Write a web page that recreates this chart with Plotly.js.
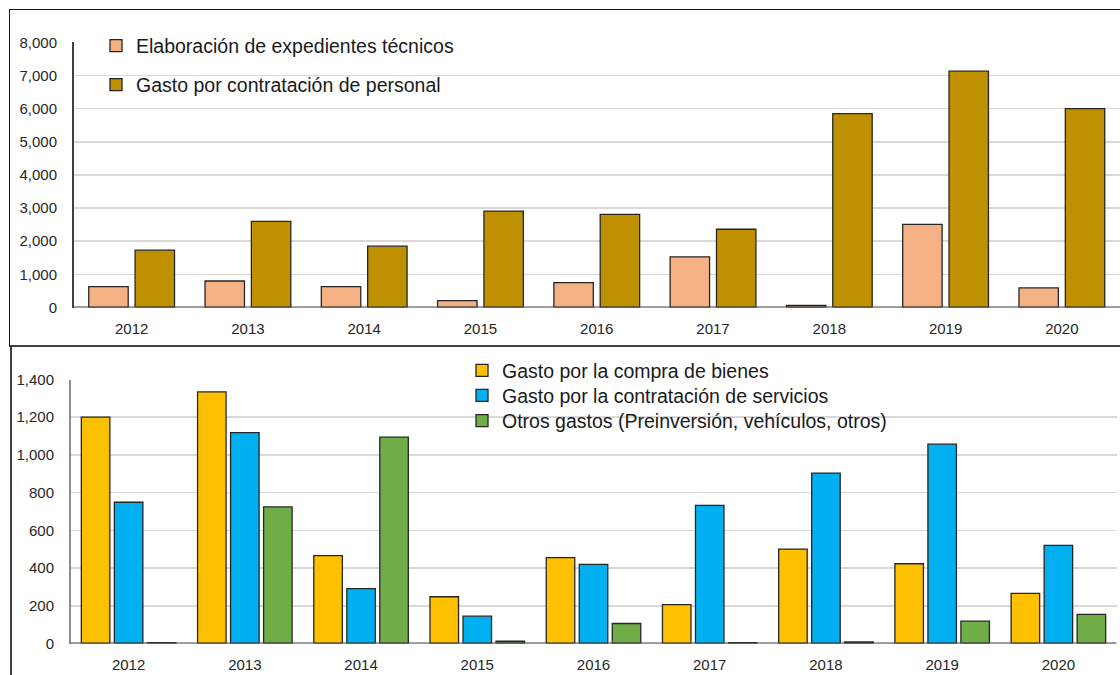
<!DOCTYPE html>
<html>
<head>
<meta charset="utf-8">
<script src="https://cdn.plot.ly/plotly-3.0.1.min.js"></script>
<style>
  html, body { margin: 0; padding: 0; background: #ffffff; }
  body { width: 1120px; height: 675px; position: relative; overflow: hidden; }
  #top, #bottom { position: absolute; left: 0; width: 1120px; }
  #top { top: 0; height: 346px; }
  #bottom { top: 346px; height: 329px; }
  .frame { position: absolute; pointer-events: none; box-sizing: border-box; }
  #frameTop { left: 9px; top: 9px; width: 1200px; height: 338px;
              border-top: 1.5px solid #1a1a1a; border-left: 1.5px solid #1a1a1a;
              border-bottom: 2px solid #404040; }
  #frameBottom { left: 10px; top: 346px; width: 1200px; height: 400px;
                 border-left: 2px solid #404040; }
</style>
</head>
<body>
<div id="top"></div>
<div id="bottom"></div>
<div class="frame" id="frameTop"></div>
<div class="frame" id="frameBottom"></div>
<script>
// Years shown on both panels
const years = ['2012', '2013', '2014', '2015', '2016', '2017', '2018', '2019', '2020'];

// Upper panel series
const expedientesName = 'Elaboración de expedientes técnicos';
const expedientes = [630, 800, 630, 210, 750, 1530, 60, 2510, 590];
const personalName = 'Gasto por contratación de personal';
const personal = [1730, 2600, 1850, 2910, 2810, 2360, 5850, 7130, 6000];

// Lower panel series
const bienesName = 'Gasto por la compra de bienes';
const bienes = [1200, 1334, 466, 248, 455, 206, 501, 423, 266];
const serviciosName = 'Gasto por la contratación de servicios';
const servicios = [749, 1118, 291, 145, 420, 733, 904, 1057, 520];
const otrosName = 'Otros gastos (Preinversión, vehículos, otros)';
const otros = [5, 724, 1094, 12, 106, 4, 8, 119, 154];

const FONT = '"Liberation Sans", Arial, sans-serif';
const outline = { color: '#262626', width: 1.3 };

function legendAt(xPx, yCenterPx, w, h) {
  return {
    x: xPx / w, y: 1 - yCenterPx / h,
    xanchor: 'left', yanchor: 'middle',
    bgcolor: 'rgba(0,0,0,0)', borderwidth: 0,
    font: { family: FONT, size: 19.5, color: '#1a1a1a' },
    itemwidth: 30
  };
}

function axes(w, h, xLeft, xRight, yZero, yTop, ymax, dtick, ylineColor) {
  return {
    xaxis: {
      type: 'category', domain: [xLeft / w, xRight / w], range: [-0.5, 8.5],
      showgrid: false, zeroline: false, showline: false, ticks: '',
      tickfont: { family: FONT, size: 15, color: '#262626' },
      ticklabelstandoff: 10, fixedrange: true
    },
    yaxis: {
      domain: [1 - yZero / h, 1 - yTop / h], range: [0, ymax], dtick: dtick,
      tickformat: ',', showgrid: true, gridcolor: '#d9d9d9', gridwidth: 1.5,
      zeroline: false, showline: true, linecolor: ylineColor, linewidth: 1.5,
      ticks: '', tickfont: { family: FONT, size: 15, color: '#262626' },
      ticklabelstandoff: 12, fixedrange: true
    }
  };
}

// category baseline drawn across the plot width only
const baseline = { type: 'line', xref: 'x domain', yref: 'y', x0: 0, x1: 1, y0: 0, y1: 0,
                   line: { color: '#404040', width: 1.8 } };

// ---- upper panel ----
const W = 1120, HT = 346, HB = 329;
const topTraces = [
  { type: 'bar', x: years, y: expedientes, name: expedientesName,
    marker: { color: '#F4B183', line: outline }, legend: 'legend' },
  { type: 'bar', x: years, y: personal, name: personalName,
    marker: { color: '#BF9000', line: outline }, legend: 'legend2' }
];
const topAx = axes(W, HT, 73.5, 1120, 307.5, 42.3, 8000, 1000, '#404040');
const topLayout = Object.assign({
  width: W, height: HT, margin: { l: 0, r: 0, t: 0, b: 0 },
  paper_bgcolor: 'rgba(0,0,0,0)', plot_bgcolor: 'rgba(0,0,0,0)',
  barmode: 'group', bargap: 0.203, bargroupgap: 0.149,
  showlegend: true,
  legend: legendAt(96, 46, W, HT),
  legend2: legendAt(96, 85, W, HT),
  shapes: [baseline]
}, topAx);

// ---- lower panel ----
const bottomTraces = [
  { type: 'bar', x: years, y: bienes, name: bienesName,
    marker: { color: '#FFC000', line: outline }, legend: 'legend' },
  { type: 'bar', x: years, y: servicios, name: serviciosName,
    marker: { color: '#00B0F0', line: outline }, legend: 'legend2' },
  { type: 'bar', x: years, y: otros, name: otrosName,
    marker: { color: '#70AD47', line: outline }, legend: 'legend3' }
];
const botAx = axes(W, HB, 70.5, 1116.5, 297.5, 33.5, 1400, 200, '#8c8c8c');
const bottomLayout = Object.assign({
  width: W, height: HB, margin: { l: 0, r: 0, t: 0, b: 0 },
  paper_bgcolor: 'rgba(0,0,0,0)', plot_bgcolor: 'rgba(0,0,0,0)',
  barmode: 'group', bargap: 0.148, bargroupgap: 0.136,
  showlegend: true,
  legend: legendAt(462, 24.7, W, HB),
  legend2: legendAt(462, 49.7, W, HB),
  legend3: legendAt(462, 75, W, HB),
  shapes: [baseline]
}, botAx);

const cfg = { staticPlot: true, displayModeBar: false };
Plotly.newPlot('top', topTraces, topLayout, cfg);
Plotly.newPlot('bottom', bottomTraces, bottomLayout, cfg);
</script>
</body>
</html>
